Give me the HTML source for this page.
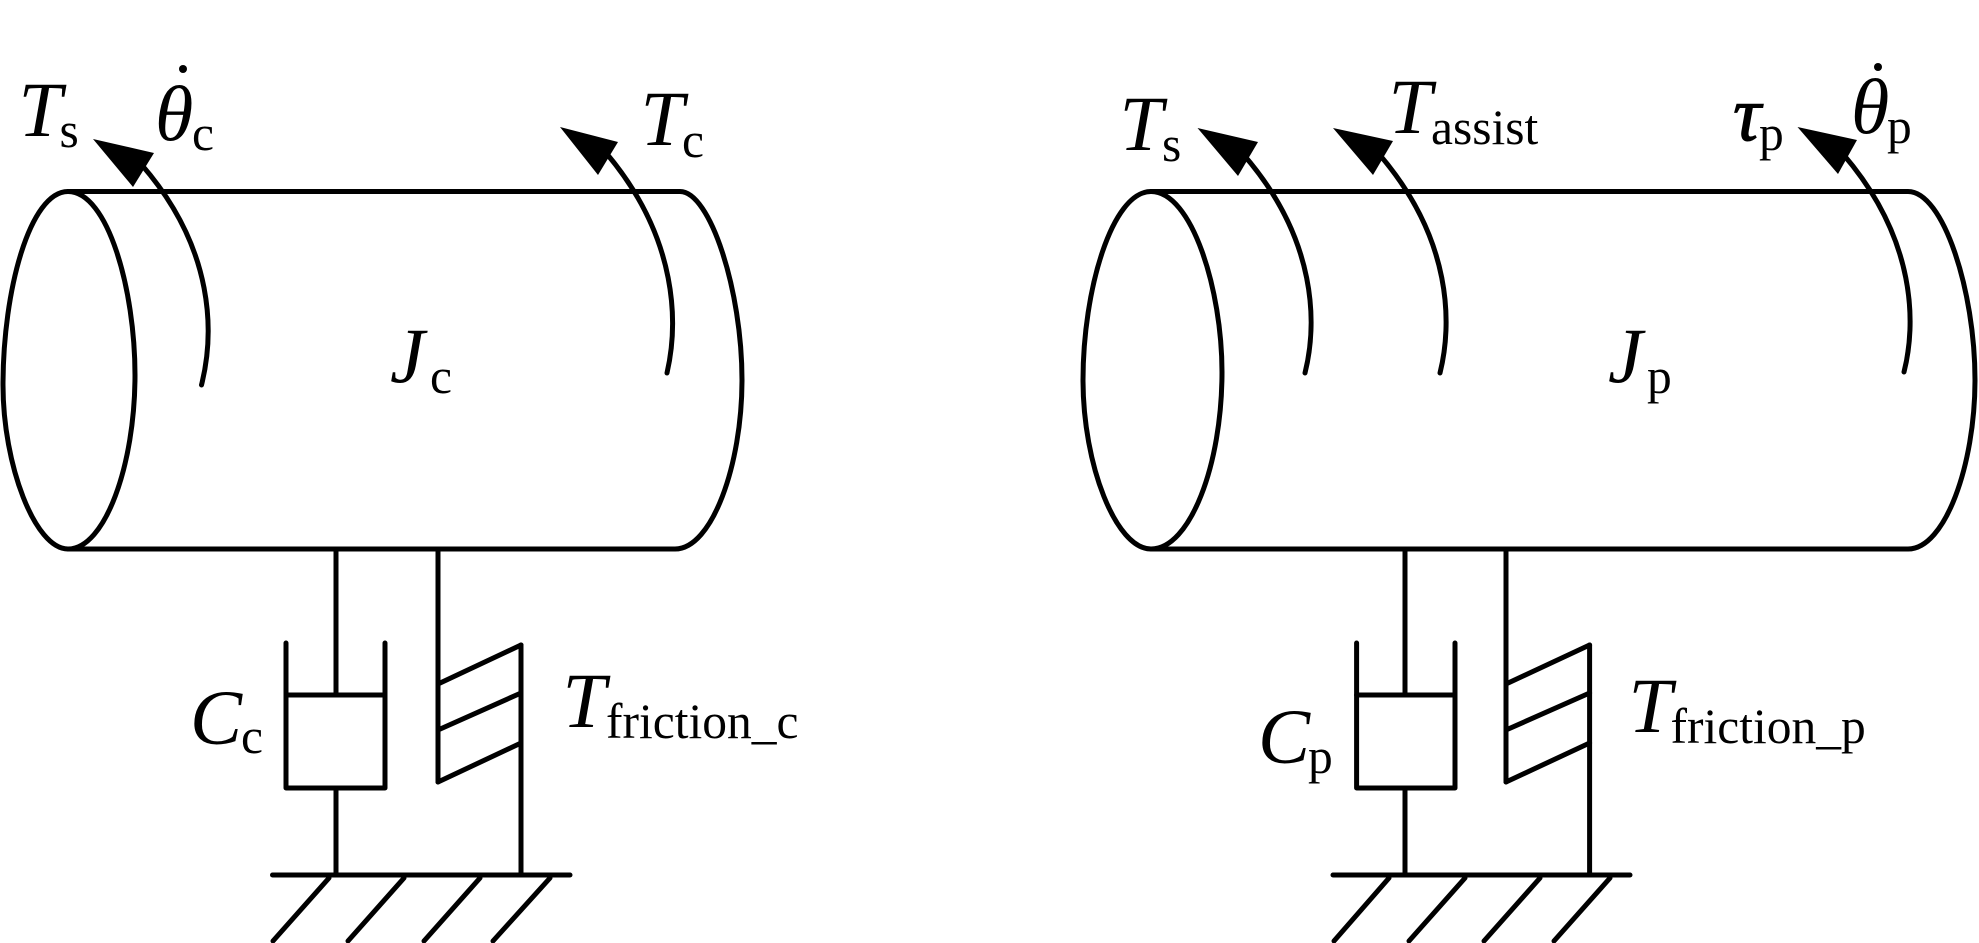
<!DOCTYPE html>
<html>
<head>
<meta charset="utf-8">
<style>
html,body{margin:0;padding:0;background:#fff;width:1979px;height:943px;overflow:hidden}
svg{display:block}
text{font-family:"Liberation Serif",serif;fill:#000}
.m{font-size:78px;font-style:italic}
.s{font-size:49.5px}
path,line,polyline{fill:none;stroke:#000;stroke-width:5;stroke-linecap:round;stroke-linejoin:round}
polygon{fill:#000;stroke:none}
circle{fill:#000}
</style>
</head>
<body>
<svg width="1979" height="943" viewBox="0 0 1979 943" xmlns="http://www.w3.org/2000/svg">
<!-- Left cylinder -->
<path d="M68,191.5 C30,191.5 3,290 3,385 C3,465 35,549 68,549 C105,549 135,465 135,375 C135,290 108,191.5 68,191.5"/>
<path d="M68,191.5 H680 C710,191.5 742,290 742,380 C742,465 712,549 675,549 H68"/>
<path d="M201.5,385 C214,335 216,250 141,164"/>
<polygon points="93,139 154,153 133,187"/>
<path d="M667,373 C678,325 679,240 607,154"/>
<polygon points="560,127 618,142 598,175"/>
<!-- Left damper and friction -->
<line x1="336" y1="549" x2="336" y2="695"/>
<line x1="438" y1="549" x2="438" y2="782"/>
<polyline points="286,643 286,788 385,788 385,643"/>
<line x1="286" y1="695" x2="385" y2="695"/>
<line x1="336" y1="788" x2="336" y2="875"/>
<line x1="521" y1="645" x2="521" y2="875"/>
<line x1="438" y1="684" x2="521" y2="645"/>
<line x1="438" y1="730" x2="521" y2="693"/>
<line x1="438" y1="782" x2="521" y2="743"/>
<line x1="272.5" y1="875" x2="570" y2="875"/>
<line x1="329" y1="878" x2="273" y2="941"/>
<line x1="404" y1="878" x2="348" y2="941"/>
<line x1="480" y1="878" x2="424" y2="941"/>
<line x1="550" y1="878" x2="493" y2="941"/>
<!-- Left labels -->
<text class="m" x="18.5" y="136">T</text><text class="s" x="59.5" y="147">s</text>
<text class="m" x="155" y="140">θ</text><circle cx="183" cy="69" r="4"/><text class="s" x="192" y="150">c</text>
<text class="m" x="640.5" y="145">T</text><text class="s" x="682" y="157">c</text>
<text class="m" x="390" y="382">J</text><text class="s" x="430" y="393">c</text>
<text class="m" x="190" y="744">C</text><text class="s" x="241" y="753">c</text>
<text class="m" x="562.5" y="727">T</text><text class="s" x="606" y="738">friction_c</text>
<!-- Right cylinder -->
<path d="M1151,191.5 C1112,191.5 1083,290 1083,380 C1083,465 1116,549 1151,549 C1190,549 1222,465 1222,372 C1222,290 1192,191.5 1151,191.5"/>
<path d="M1151,191.5 H1908 C1943,191.5 1975,290 1975,380 C1975,465 1945,549 1908,549 H1151"/>
<path d="M1305,373 C1317,325 1318,240 1243,154"/>
<polygon points="1197.5,128 1258,142 1238,176"/>
<path d="M1440,373 C1452,325 1453,240 1379,154"/>
<polygon points="1333,128 1393,141 1373,175"/>
<path d="M1904,372 C1916,325 1917,240 1843,154"/>
<polygon points="1797.5,127 1857,140 1838,174"/>
<!-- Right damper and friction -->
<line x1="1405" y1="549" x2="1405" y2="695"/>
<line x1="1506" y1="549" x2="1506" y2="782"/>
<polyline points="1356.6,643 1356.6,788 1455,788 1455,643"/>
<line x1="1356.6" y1="695" x2="1455" y2="695"/>
<line x1="1405" y1="788" x2="1405" y2="875"/>
<line x1="1589.6" y1="645" x2="1589.6" y2="875"/>
<line x1="1506" y1="684" x2="1589.6" y2="645"/>
<line x1="1506" y1="730" x2="1589.6" y2="693"/>
<line x1="1506" y1="782" x2="1589.6" y2="743"/>
<line x1="1333" y1="875" x2="1630" y2="875"/>
<line x1="1389" y1="878" x2="1334" y2="941"/>
<line x1="1465" y1="878" x2="1409" y2="941"/>
<line x1="1540" y1="878" x2="1484" y2="941"/>
<line x1="1610" y1="878" x2="1554" y2="941"/>
<!-- Right labels -->
<text class="m" x="1119.5" y="150">T</text><text class="s" x="1162" y="161">s</text>
<text class="m" x="1388.5" y="133">T</text><text class="s" x="1431" y="144">assist</text>
<text class="m" x="1733" y="140" style="stroke:#000;stroke-width:1">τ</text><text class="s" x="1759" y="150">p</text>
<text class="m" x="1851" y="133">θ</text><circle cx="1878" cy="67" r="4"/><text class="s" x="1887" y="143">p</text>
<text class="m" x="1608" y="382">J</text><text class="s" x="1647" y="393">p</text>
<text class="m" x="1258" y="763">C</text><text class="s" x="1308" y="773">p</text>
<text class="m" x="1628.5" y="732">T</text><text class="s" x="1670.5" y="743">friction_p</text>
</svg>
</body>
</html>
